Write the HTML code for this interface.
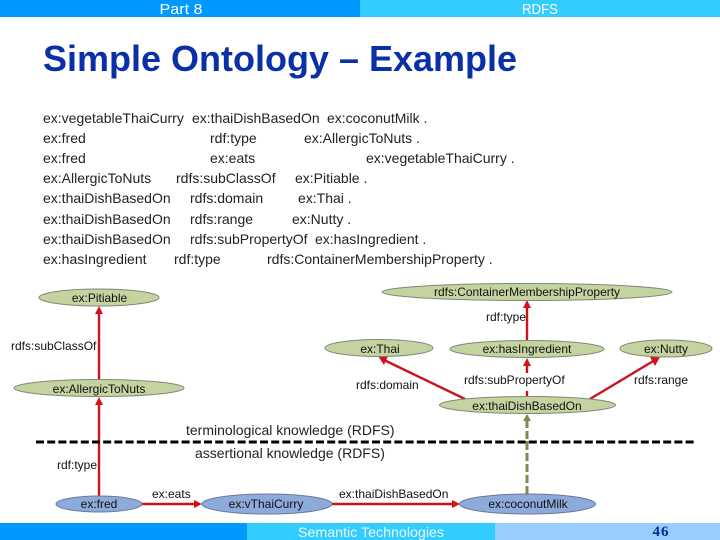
<!DOCTYPE html>
<html><head><meta charset="utf-8">
<style>html,body{margin:0;padding:0;background:#fff}svg{display:block}
text{font-family:"Liberation Sans",sans-serif;fill:#111}
.b{font-size:14px;fill:#222}.g{font-size:12px;fill:#111}.t{font-size:14px;fill:#222}
</style></head><body>
<svg width="720" height="540" viewBox="0 0 720 540" xmlns="http://www.w3.org/2000/svg">
<rect width="720" height="540" fill="#fff"/>
<rect x="0" y="0" width="360" height="17" fill="#0099ff"/>
<rect x="360" y="0" width="360" height="17" fill="#33ccff"/>
<text x="181" y="14" text-anchor="middle" style="font-size:15px;fill:#fff" textLength="43" lengthAdjust="spacingAndGlyphs">Part 8</text>
<text x="540" y="14" text-anchor="middle" style="font-size:15px;fill:#fff" textLength="36" lengthAdjust="spacingAndGlyphs">RDFS</text>
<text x="43" y="71" style="font-size:36px;font-weight:bold;fill:#0a30a8" textLength="474" lengthAdjust="spacingAndGlyphs">Simple Ontology – Example</text>

<g class="b">
<text class="b" x="43" y="123">ex:vegetableThaiCurry</text><text class="b" x="192" y="123">ex:thaiDishBasedOn</text><text class="b" x="327" y="123">ex:coconutMilk .</text>
<text class="b" x="43" y="143">ex:fred</text><text class="b" x="210" y="143">rdf:type</text><text class="b" x="304" y="143">ex:AllergicToNuts .</text>
<text class="b" x="43" y="163">ex:fred</text><text class="b" x="210" y="163">ex:eats</text><text class="b" x="366" y="163">ex:vegetableThaiCurry .</text>
<text class="b" x="43" y="183">ex:AllergicToNuts</text><text class="b" x="176" y="183">rdfs:subClassOf</text><text class="b" x="295" y="183">ex:Pitiable .</text>
<text class="b" x="43" y="203">ex:thaiDishBasedOn</text><text class="b" x="190" y="203">rdfs:domain</text><text class="b" x="298" y="203">ex:Thai .</text>
<text class="b" x="43" y="224">ex:thaiDishBasedOn</text><text class="b" x="190" y="224">rdfs:range</text><text class="b" x="292" y="224">ex:Nutty .</text>
<text class="b" x="43" y="244">ex:thaiDishBasedOn</text><text class="b" x="190" y="244">rdfs:subPropertyOf</text><text class="b" x="315" y="244">ex:hasIngredient .</text>
<text class="b" x="43" y="264">ex:hasIngredient</text><text class="b" x="174" y="264">rdf:type</text><text class="b" x="267" y="264">rdfs:ContainerMembershipProperty .</text>
</g>

<!-- connectors -->
<g stroke="#c9141f" stroke-width="2.4" fill="none">
<line x1="99" y1="380" x2="99" y2="312"/>
<line x1="99" y1="496" x2="99" y2="403"/>
<line x1="527" y1="341" x2="527" y2="306"/>
<line x1="527" y1="396" x2="527" y2="362"/>
<line x1="465" y1="399" x2="384" y2="360"/>
<line x1="590" y1="399" x2="655" y2="360"/>
<line x1="142" y1="504" x2="198" y2="504"/>
<line x1="332" y1="504" x2="455" y2="504"/>
</g>
<g fill="#d5101c">
<polygon points="99,306 95,314 103,314"/>
<polygon points="99,397 95,405 103,405"/>
<polygon points="527,300 523,308 531,308"/>
<polygon points="527,358 523,366 531,366"/>
<polygon points="378,356 388,356 384,365"/>
<polygon points="660,357 650,357 655,366"/>
<polygon points="202,504 194,500 194,508"/>
<polygon points="460,504 452,500 452,508"/>
</g>
<line x1="527" y1="494" x2="527" y2="420" stroke="#7a8c4f" stroke-width="3" stroke-dasharray="8 3"/>
<polygon points="527,414 523,421 531,421" fill="#7a8c4f"/>
<line x1="36" y1="442" x2="694" y2="442" stroke="#000" stroke-width="3" stroke-dasharray="8 3.2"/>
<line x1="527" y1="441" x2="527" y2="443" stroke="#7a8c4f" stroke-width="3"/>

<!-- label backgrounds -->
<rect x="462" y="373" width="106" height="18" fill="#fff"/>

<!-- nodes -->
<g fill="#c5d3a0" stroke="#7c8a78" stroke-width="1">
<ellipse cx="99" cy="297.5" rx="60" ry="8.5"/>
<ellipse cx="99" cy="388" rx="85" ry="8.5"/>
<ellipse cx="379" cy="348" rx="54" ry="8.5"/>
<ellipse cx="527" cy="292" rx="145" ry="8.5"/>
<ellipse cx="527" cy="349" rx="77" ry="8.5"/>
<ellipse cx="666" cy="348.500" rx="46" ry="8.5"/>
<ellipse cx="527.500" cy="405" rx="88" ry="8.5"/>
</g>
<g fill="#8eaadb" stroke="#6a7a9a" stroke-width="1">
<ellipse cx="99" cy="504" rx="43" ry="8"/>
<ellipse cx="267" cy="504" rx="65" ry="10"/>
<ellipse cx="527.500" cy="504" rx="68" ry="10"/>
</g>

<!-- node labels -->
<g text-anchor="middle">
<text class="g" x="99.500" y="302">ex:Pitiable</text>
<text class="g" x="99" y="393">ex:AllergicToNuts</text>
<text class="g" x="380" y="353">ex:Thai</text>
<text class="g" x="527" y="296" textLength="186" lengthAdjust="spacingAndGlyphs">rdfs:ContainerMembershipProperty</text>
<text class="g" x="527" y="353">ex:hasIngredient</text>
<text class="g" x="666" y="353">ex:Nutty</text>
<text class="g" x="527" y="410">ex:thaiDishBasedOn</text>
<text class="g" x="99" y="508">ex:fred</text>
<text class="g" x="266" y="508">ex:vThaiCurry</text>
<text class="g" x="528" y="508">ex:coconutMilk</text>
</g>
<!-- edge labels -->
<g>
<text class="g" x="11" y="350">rdfs:subClassOf</text>
<text class="g" x="486" y="321">rdf:type</text>
<text class="g" x="356" y="389">rdfs:domain</text>
<text class="g" x="464" y="384">rdfs:subPropertyOf</text>
<text class="g" x="634" y="384">rdfs:range</text>
<text class="g" x="57" y="469">rdf:type</text>
<text class="g" x="152" y="498">ex:eats</text>
<text class="g" x="339" y="498">ex:thaiDishBasedOn</text>
<text class="t" x="186" y="435">terminological knowledge (RDFS)</text>
<text class="t" x="195" y="458">assertional knowledge (RDFS)</text>
</g>

<!-- footer -->
<rect x="0" y="523" width="247" height="17" fill="#0099ff"/>
<rect x="247" y="523" width="248" height="17" fill="#33ccff"/>
<rect x="495" y="523" width="225" height="17" fill="#99ccff"/>
<text x="371" y="537" text-anchor="middle" style="font-size:14px;fill:#e8f8ff" textLength="146" lengthAdjust="spacingAndGlyphs">Semantic Technologies</text>
<text x="661" y="536" text-anchor="middle" style="font-family:'Liberation Serif',serif;font-size:15px;font-weight:bold;fill:#0a2a90;letter-spacing:1px">46</text>
</svg>
</body></html>
